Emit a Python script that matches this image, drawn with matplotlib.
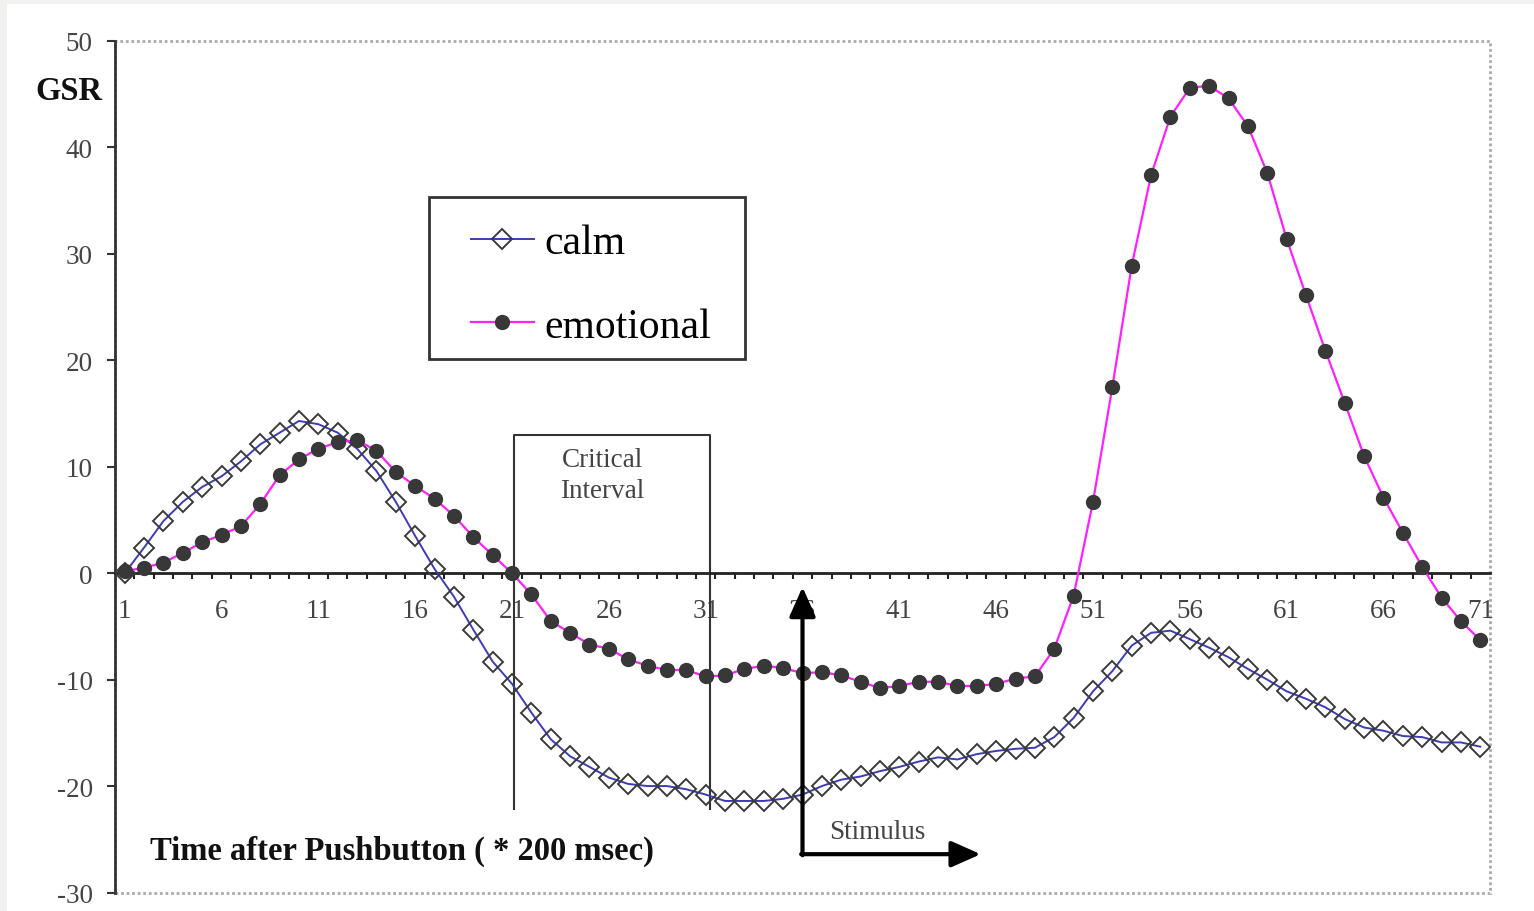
import matplotlib
matplotlib.use("Agg")
import matplotlib.pyplot as plt
from matplotlib.patches import Rectangle

# ---- data ----
time_idx = list(range(1, 72))
calm = [0.0, 2.4, 4.9, 6.7, 8.1, 9.1, 10.5, 12.1, 13.2, 14.3,
        14.0, 13.2, 11.7, 9.6, 6.7, 3.5, 0.4, -2.2, -5.3, -8.3,
        -10.4, -13.1, -15.6, -17.2, -18.2, -19.2, -19.8, -20.0, -20.0, -20.3,
        -20.8, -21.4, -21.4, -21.4, -21.2, -20.8, -20.0, -19.4, -19.1, -18.6,
        -18.2, -17.7, -17.3, -17.5, -17.0, -16.7, -16.5, -16.4, -15.4, -13.6,
        -11.1, -9.2, -6.8, -5.6, -5.4, -6.2, -7.0, -7.9, -9.0, -10.0,
        -11.1, -11.8, -12.6, -13.7, -14.5, -14.8, -15.3, -15.4, -15.9, -15.9,
        -16.3]
emotional = [0.2, 0.5, 1.0, 1.9, 2.9, 3.6, 4.4, 6.5, 9.2, 10.7,
             11.7, 12.3, 12.5, 11.5, 9.5, 8.2, 7.0, 5.4, 3.4, 1.7,
             0.0, -2.0, -4.5, -5.6, -6.7, -7.1, -8.1, -8.7, -9.1, -9.1,
             -9.7, -9.6, -9.0, -8.7, -8.9, -9.4, -9.3, -9.6, -10.2, -10.8,
             -10.6, -10.2, -10.2, -10.6, -10.6, -10.4, -9.9, -9.7, -7.1, -2.1,
             6.7, 17.5, 28.9, 37.4, 42.9, 45.6, 45.8, 44.6, 42.0, 37.6,
             31.4, 26.1, 20.9, 16.0, 11.0, 7.1, 3.8, 0.6, -2.3, -4.5,
             -6.3]
x_tick_labels = [1, 6, 11, 16, 21, 26, 31, 36, 41, 46, 51, 56, 61, 66, 71]
y_ticks = [-30, -20, -10, 0, 10, 20, 30, 40, 50]
series_names = ["calm", "emotional"]

W, H = 1534, 912
SERIF = ["Liberation Serif", "DejaVu Serif"]
plt.rcParams["font.family"] = SERIF

fig = plt.figure(figsize=(W / 100, H / 100), dpi=100, facecolor="#f1f1ef")
# white page area
fig.patches.append(Rectangle((7 / W, 0), 1 - 7 / W, 1 - 5 / H, transform=fig.transFigure,
                             facecolor="white", edgecolor="none", zorder=-10))

ax = fig.add_axes([115 / W, 1 - 893.5 / H, (1490 - 115) / W, (893.5 - 42) / H])
ax.set_facecolor("none")
ax.set_xlim(0.5, 71.5)
ax.set_ylim(-30, 50)

# plot-area border (gray, dotted) for top/right/bottom
ax.add_patch(Rectangle((0, 0), 1, 1, transform=ax.transAxes, fill=False,
                       edgecolor="#aaaaaa", lw=2, ls=(0, (1, 1)), zorder=0, clip_on=False))

for s in ["top", "right"]:
    ax.spines[s].set_visible(False)
ax.spines["left"].set_color("#333333")
ax.spines["left"].set_linewidth(2)
ax.spines["bottom"].set_position(("data", 0))
ax.spines["bottom"].set_color("#222222")
ax.spines["bottom"].set_linewidth(2)

# y ticks
ax.set_yticks(y_ticks)
ax.set_yticklabels([str(v) for v in y_ticks])
ax.tick_params(axis="y", direction="out", length=6, width=1.5, color="#333333",
               labelsize=19.5, labelcolor="#444444", pad=10)

# x ticks: marks between categories, labels on categories
ax.set_xticks([i + 0.5 for i in range(1, 71)])
ax.set_xticklabels([])
ax.tick_params(axis="x", which="major", direction="out", length=4, width=1.5, color="#222222")
ax.set_xticks(x_tick_labels, minor=True)
ax.set_xticklabels([str(v) for v in x_tick_labels], minor=True)
ax.tick_params(axis="x", which="minor", length=0, labelsize=19.5, labelcolor="#444444", pad=18)

# series
l1, = ax.plot(time_idx, calm, color="#3c3cb8", lw=1.4, marker="D", ms=10.2,
              mfc="none", mec="#3a3a3a", mew=1.4, zorder=3)
l2, = ax.plot(time_idx, emotional, color="#ff20ff", lw=1.6, marker="o", ms=10,
              mfc="#383838", mec="#383838", zorder=4)

# legend
fig.patches.append(Rectangle((429 / W, 1 - 360 / H), 316 / W, 162 / H, transform=fig.transFigure,
                             fill=False, edgecolor="#333333", lw=2))
fig.legend([l1, l2], series_names, loc="upper left",
           bbox_to_anchor=(471 / W, 1 - 225 / H), frameon=False, fontsize=30,
           handlelength=1.5, handletextpad=0.25, labelspacing=1.08,
           borderpad=0, borderaxespad=0)

# critical interval box
ax.plot([21.1, 21.1, 31.2, 31.2], [-22.2, 13.0, 13.0, -22.2], color="#333333", lw=1.5, zorder=2)
ax.text(25.65, 9.25, "Critical\nInterval", ha="center", va="center", fontsize=19.5,
        color="#444444", linespacing=1.3)

# stimulus arrows
astyle = "-|>,head_length=1.8,head_width=0.8"
ax.annotate("", xy=(36.0, -1.3), xytext=(36.0, -26.5),
            arrowprops=dict(arrowstyle=astyle, lw=3, color="black",
                            shrinkA=0, shrinkB=0), zorder=5)
ax.annotate("", xy=(45.2, -26.4), xytext=(35.93, -26.4),
            arrowprops=dict(arrowstyle=astyle, lw=3, color="black",
                            shrinkA=0, shrinkB=0), zorder=5)
ax.text(39.85, -24.3, "Stimulus", ha="center", va="center", fontsize=19.5, color="#444444")

# axis titles
ax.text(2.3, -26.05, "Time after Pushbutton ( * 200 msec)", ha="left", va="center",
        fontsize=23.5, fontweight="bold", color="#111111")
fig.text(35 / W, 1 - 92 / H, "GSR", ha="left", va="center", fontsize=23.5,
         fontweight="bold", color="#111111")

fig.savefig("out.png", dpi=100, facecolor=fig.get_facecolor())
